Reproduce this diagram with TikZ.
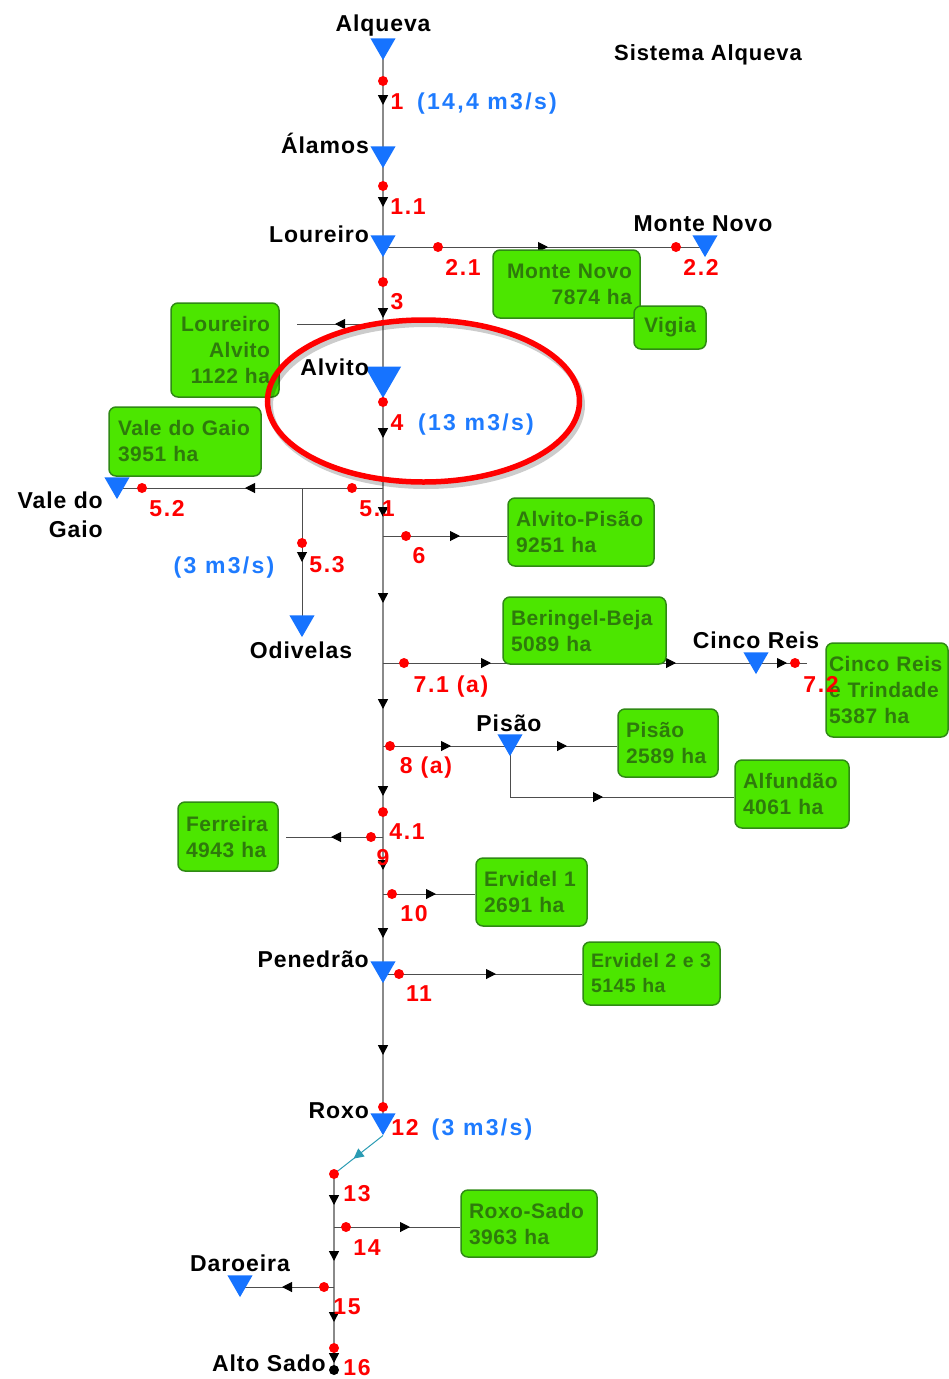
\documentclass[tikz,border=0pt]{standalone}
\usepackage{fontspec}
\setmainfont{Liberation Sans}
\newfontfamily\namefont{Liberation Sans}[LetterSpace=4]
\newfontfamily\numfont{Liberation Sans}[LetterSpace=7]
\newfontfamily\flowfont{Liberation Sans}[LetterSpace=10]
\newfontfamily\farmfont{Liberation Sans}[LetterSpace=2.5]
\usetikzlibrary{arrows.meta, shapes.geometric, decorations.markings}

\definecolor{resblue}{HTML}{1673FF}
\definecolor{flowblue}{HTML}{1E7BFF}
\definecolor{farmgreen}{HTML}{4CE600}
\definecolor{farmdark}{HTML}{2E7A0C}
\definecolor{farmedge}{HTML}{2F8A14}
\definecolor{canalgray}{HTML}{8A8A8A}
\definecolor{pipegray}{HTML}{4D4D4D}
\definecolor{roxoteal}{HTML}{2A9BB3}

\pgfdeclarelayer{bg}
\pgfsetlayers{bg,main}

\begin{document}
\begin{tikzpicture}[x=1pt, y=-1pt,
  res/.style={regular polygon, regular polygon sides=3, shape border rotate=180,
    fill=resblue, minimum size=29pt, inner sep=0pt},
  pnt/.style={circle, fill=red, minimum size=10pt, inner sep=0pt},
  farm/.style={draw=farmedge, line width=1.5pt, fill=farmgreen, rounded corners=7pt,
    text=farmdark, inner xsep=8pt, inner ysep=0pt,
    font=\farmfont\bfseries\fontsize{21}{26}\selectfont},
  site/.style={inner sep=0pt, text height=16.5pt, text depth=0pt,
    font=\namefont\bfseries\fontsize{23}{29}\selectfont},
  num/.style={inner sep=0pt, text=red, text height=16.5pt, text depth=0pt,
    font=\numfont\bfseries\fontsize{23}{26}\selectfont},
  flow/.style={num, text=flowblue, font=\flowfont\bfseries\fontsize{23}{26}\selectfont},
  canal/.style={draw=canalgray, line width=1.6pt},
  pipe/.style={draw=pipegray, line width=1pt},
  tri/.style={postaction={decorate, decoration={markings,
    mark=at position #1 with {\arrow{Triangle[width=10pt, length=10pt, color=black]}}}}},
]
\useasboundingbox (0,0) rectangle (949,1379);

% farm blocks
\node[farm, minimum width=147pt, minimum height=68pt, text width=131pt, align=right] (mn) at (566.5,284) {Monte Novo\\7874 ha};
\node[farm, minimum width=72pt, minimum height=43pt, text width=56pt, align=center] (vig) at (670,327.5) {Vigia};
\node[farm, minimum width=108pt, minimum height=94pt, text width=90pt, inner xsep=9pt, align=right] (la) at (225,350) {Loureiro\\Alvito\\1122 ha};
\node[farm, minimum width=152pt, minimum height=69pt, text width=134pt, inner xsep=9pt, align=left] (vg) at (185,441.5) {Vale do Gaio\\3951 ha};
\node[farm, minimum width=146pt, minimum height=68pt, text width=130pt, align=left] (ap) at (581,532) {Alvito-Pisão\\9251 ha};
\node[farm, minimum width=163pt, minimum height=67pt, text width=147pt, align=left] (bb) at (584.5,630.5) {Beringel-Beja\\5089 ha};
\node[farm, minimum width=122pt, minimum height=94pt, text width=116pt, inner xsep=3pt, align=left] (cr) at (887,690) {Cinco Reis\\e Trindade\\5387 ha};
\node[farm, minimum width=100pt, minimum height=68pt, text width=84pt, align=left] (pb) at (668,743) {Pisão\\2589 ha};
\node[farm, minimum width=114pt, minimum height=68pt, text width=98pt, align=left] (alf) at (792,794) {Alfundão\\4061 ha};
\node[farm, minimum width=100pt, minimum height=69pt, text width=84pt, align=left] (fer) at (228,836.5) {Ferreira\\4943 ha};
\node[farm, minimum width=111pt, minimum height=68pt, text width=95pt, align=left] (e1) at (531.5,892) {Ervidel 1\\2691 ha};
\node[farm, minimum width=137pt, minimum height=63pt, text width=121pt, align=left,
  font=\farmfont\bfseries\fontsize{19.5}{25}\selectfont] (e23) at (651.5,973.5) {Ervidel 2 e 3\\5145 ha};
\node[farm, minimum width=136pt, minimum height=67pt, text width=120pt, align=left] (rs) at (529,1223.5) {Roxo-Sado\\3963 ha};

% reservoirs
\node[res] (alq) at (383,45.6) {};
\node[res] (alam) at (383,153.6) {};
\node[res] (lou) at (383,242.6) {};
\node[res, minimum size=42pt] (alv) at (383,377) {};
\node[res] (mnovo) at (705,242.6) {};
\node[res] (vgaio) at (117,484.6) {};
\node[res] (odiv) at (302,622.6) {};
\node[res] (creis) at (756,659.6) {};
\node[res] (pisao) at (510,741.6) {};
\node[res] (pen) at (383,968.6) {};
\node[res] (rox) at (383,1120.6) {};
\node[res] (daro) at (240,1282.6) {};

% junctions
\coordinate (jlou) at (383,247);
\coordinate (j3) at (383,324);
\coordinate (laend) at (297,324);
\coordinate (j51) at (383,488);
\coordinate (jod) at (302,488);
\coordinate (j6) at (383,536);
\coordinate (j71) at (383,663);
\coordinate (crend) at (807,663);
\coordinate (j8) at (383,746);
\coordinate (jalf) at (510,797);
\coordinate (j41) at (383,837);
\coordinate (ferend) at (286,837);
\coordinate (j10) at (383,894);
\coordinate (j11) at (383,974);
\coordinate (j14) at (334,1227);
\coordinate (j15) at (334,1287);

% control points
\node[pnt] (p1) at (383,81) {};
\node[pnt] (p11) at (383,186) {};
\node[pnt] (p21) at (438,247) {};
\node[pnt] (p22) at (676,247) {};
\node[pnt] (p3) at (383,282) {};
\node[pnt] (p4) at (383,402) {};
\node[pnt] (p51) at (352,488) {};
\node[pnt] (p52) at (142,488) {};
\node[pnt] (p53) at (302,543) {};
\node[pnt] (p6) at (406,536) {};
\node[pnt] (p71) at (404,663) {};
\node[pnt] (p72) at (795,663) {};
\node[pnt] (p8) at (390,746) {};
\node[pnt] (p9) at (383,812) {};
\node[pnt] (p41) at (371,837) {};
\node[pnt] (p10) at (392,894) {};
\node[pnt] (p11b) at (399,974) {};
\node[pnt] (p12) at (383,1107) {};
\node[pnt] (p13) at (334,1174) {};
\node[pnt] (p14) at (346,1227) {};
\node[pnt] (p15) at (324,1287) {};
\node[pnt] (p16) at (334,1348) {};
\node[pnt, fill=black] (asado) at (334,1370) {};

% canals
\begin{pgfonlayer}{bg}
\draw[canal, tri=59.4pt, tri=161.4pt, tri=272.4pt, tri=392.4pt, tri=471.4pt, tri=557.4pt,
  tri=663.4pt, tri=750.4pt, tri=824.4pt, tri=892.4pt, tri=1009.4pt]
  (alq.center) -- (alam.center) -- (lou.center) -- (alv.center) -- (pen.center) -- (rox.center);
\draw[canal, tri=31pt, tri=87pt, tri=148pt, tri=189pt] (p13.center) -- (asado.center);
\draw[roxoteal, line width=1pt, postaction={decorate, decoration={markings,
  mark=at position .6 with {\arrow{Triangle[width=10pt, length=10pt, color=roxoteal]}}}}]
  (rox.south) -- (p13.center);
\draw[pipe, tri=165pt] (jlou) -- (mnovo.center |- jlou);
\draw[pipe, tri=48pt] (j3) -- (laend);
\draw[pipe, tri=138pt] (j51) -- (vgaio.center |- j51);
\draw[pipe, tri=74pt] (jod) -- (odiv.center);
\draw[pipe, tri=77pt] (j6) -- (j6 -| ap.west);
\draw[pipe, tri=108pt, tri=293pt, tri=404pt] (j71) -- (crend);
\draw[pipe, tri=68pt, tri=184pt] (j8) -- (j8 -| pb.west);
\draw[pipe, tri=144pt] (pisao.center |- j8) -- (jalf) -- (jalf -| alf.west);
\draw[pipe, tri=52pt] (j41) -- (ferend);
\draw[pipe, tri=53pt] (j10) -- (j10 -| e1.west);
\draw[pipe, tri=113pt] (j11) -- (j11 -| e23.west);
\draw[pipe, tri=76pt] (j14) -- (j14 -| rs.west);
\draw[pipe, tri=52pt] (j15) -- (daro.center |- j15);
\end{pgfonlayer}

% names
\node[site] (alqlbl) at (383,23) {Alqueva};
\node[site, font=\namefont\bfseries\fontsize{22}{29}\selectfont] (title) at (708,52) {Sistema Alqueva};
\node[site, anchor=east] (alamlbl) at (369,145) {Álamos};
\node[site, anchor=east] (loulbl) at (369,234) {Loureiro};
\node[site] (mnovolbl) at (703,223) {Monte Novo};
\node[site, anchor=east] (alvlbl) at (369,367) {Alvito};
\node[site, anchor=east, align=right, text height=, text depth=] (vgaiolbl) at (103,514.5) {Vale do\\Gaio};
\node[site] (odivlbl) at (301,650) {Odivelas};
\node[site] (creislbl) at (756,640) {Cinco Reis};
\node[site] (pisaolbl) at (509,723) {Pisão};
\node[site, anchor=east] (penlbl) at (369,959) {Penedrão};
\node[site, anchor=east] (roxlbl) at (369,1110) {Roxo};
\node[site] (darolbl) at (240,1263) {Daroeira};
\node[site, anchor=east] (asadolbl) at (326,1363) {Alto Sado};

% point numbers and flows
\node[num] (n1) at (397,101) {1};
\node[flow] (q1) at (487,101) {(14,4 m3/s)};
\node[num] (n11) at (408,206) {1.1};
\node[num] (n21) at (463,267) {2.1};
\node[num] (n22) at (701,267) {2.2};
\node[num] (n3) at (397,301) {3};
\node[num] (n4) at (397,422) {4};
\node[flow] (q4) at (476,422) {(13 m3/s)};
\node[num] (n52) at (167,508) {5.2};
\node[num] (n51) at (377,508) {5.1};
\node[num] (n53) at (327,564) {5.3};
\node[flow] (q53) at (224,565) {(3 m3/s)};
\node[num] (n6) at (419,555) {6};
\node[num] (n71) at (451,684) {7.1 (a)};
\node[num] (n72) at (821,684) {7.2};
\node[num] (n8) at (426,765) {8 (a)};
\node[num] (n41) at (407,831) {4.1};
\node[num] (n9) at (383,857) {9};
\node[num] (n10) at (414,913) {10};
\node[num] (n111) at (419,993) {11};
\node[num] (n12) at (405,1127) {12};
\node[flow] (q12) at (482,1127) {(3 m3/s)};
\node[num] (n13) at (357,1193) {13};
\node[num] (n14) at (367,1247) {14};
\node[num] (n15) at (347,1306) {15};
\node[num] (n16) at (357,1367) {16};

% highlight
\draw[black, opacity=.2, line width=6pt] (426,405) ellipse [x radius=156pt, y radius=81pt];
\draw[red, line width=5.5pt] (423.5,401) ellipse [x radius=156pt, y radius=81pt];
\end{tikzpicture}
\end{document}
